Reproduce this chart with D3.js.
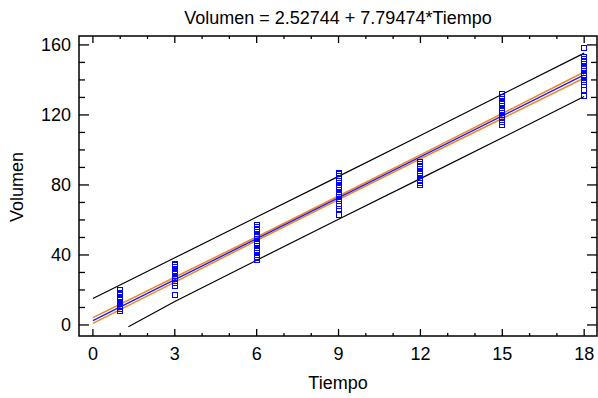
<!DOCTYPE html>
<html><head><meta charset="utf-8">
<script src="https://cdn.jsdelivr.net/npm/d3@7"></script>
<style>body{margin:0;background:#fff}svg{display:block}text{font-family:"Liberation Sans",Arial,sans-serif}</style>
</head><body><svg id="c" width="598" height="398"></svg>
<script>
const title = "Volumen = 2.52744 + 7.79474*Tiempo";
const xLabel = "Tiempo", yLabel = "Volumen";
const intercept = 2.52744, slope = 7.79474;
const xTicks = [0,3,6,9,12,15,18];
const yTicks = [0,40,80,120,160];
// observed values per Tiempo group
const tiempo = [1,3,6,9,12,15,18];
const vol1  = [8,9,10,10.5,11,12,12.5,13,14,14.5,15,16,17,17.5,18,20];
const vol3  = [17,22,24,25,26,26.5,27,28,29,29.5,30,31,32,33,34,35];
const vol6  = [37,38,39,40,41,42,43,44,45,46,47,48,49,50,51,52,53,54,55,56,57];
const vol9  = [63,66,68,69,71,72,73,74,75,76,77,78,79,80,82,84,85,86,87];
const vol12 = [80,81,82,83,84,85,86,87,88,89,90,91,92,93];
const vol15 = [114,116,117,118,119,120,121,122,123,124,125,126,127,128,129,130,132];
const vol18 = [131,134,137,139,140,141,142,143,144,145,146,147,148,149,150,151,152,153,158];
// band limits
const predUpX = [0,3,6,9,12,15,18];
const predUp  = [15.1,38.4,61.7,84.9,108.3,131.8,155.3];
const predLoX = [1.3,3,6,9,12,15,18];
const predLo  = [-1.0,13.4,37.0,60.4,83.6,107.0,130.5];
const confX   = [0,3,6,9,12,15,18];
const confUp  = [4.2,27.3,50.3,73.7,97.2,120.8,144.5];
const confLo  = [0.9,24.5,48.3,71.7,95.0,118.0,141.1];

const svg = d3.select("#c");
const L=79, T=36, R=597, B=336;
const x = d3.scaleLinear().domain([-0.51,18.47]).range([L,R]);
const y = d3.scaleLinear().domain([-6.3,165.1]).range([B,T]);

svg.append("defs").append("clipPath").attr("id","clip").append("rect")
  .attr("x",L).attr("y",T).attr("width",R-L).attr("height",B-T);

const g = svg.append("g").attr("clip-path","url(#clip)");
const line = d3.line().x(d=>x(d[0])).y(d=>y(d[1]));
const zip = (xs,ys)=>xs.map((v,i)=>[v,ys[i]]);

g.append("path").attr("d",line(zip(predUpX,predUp))).attr("fill","none").attr("stroke","#000").attr("stroke-width",1.2);
g.append("path").attr("d",line(zip(predLoX,predLo))).attr("fill","none").attr("stroke","#000").attr("stroke-width",1.2);
g.append("path").attr("d",line(zip(confX,confUp))).attr("fill","none").attr("stroke","#f08a24").attr("stroke-width",1.6);
g.append("path").attr("d",line(zip(confX,confLo))).attr("fill","none").attr("stroke","#f08a24").attr("stroke-width",1.6);
g.append("path").attr("d",line([[0,intercept],[18,intercept+slope*18]])).attr("fill","none").attr("stroke","#1a1aff").attr("stroke-width",1.4);

const groups=[vol1,vol3,vol6,vol9,vol12,vol15,vol18];
const pts=[];
groups.forEach((arr,i)=>arr.forEach(v=>pts.push([tiempo[i],v])));
svg.append("g").selectAll("rect").data(pts).join("rect")
  .attr("x",d=>Math.round(x(d[0]))-2.5).attr("y",d=>Math.round(y(d[1]))-2.5)
  .attr("width",5).attr("height",5).attr("fill","none").attr("stroke","#0000ff").attr("stroke-width",1);

// frame
svg.append("rect").attr("x",L).attr("y",T).attr("width",R-L).attr("height",B-T).attr("fill","none").attr("stroke","#000").attr("stroke-width",1.5);

// ticks
const tg = svg.append("g").attr("stroke","#000").attr("stroke-width",1.3);
d3.range(0,19,1).forEach(v=>{
  const major = v%3===0, len = major?7:3, px=x(v);
  tg.append("line").attr("x1",px).attr("x2",px).attr("y1",B).attr("y2",B-len);
  tg.append("line").attr("x1",px).attr("x2",px).attr("y1",T).attr("y2",T+len);
});
d3.range(0,161,10).forEach(v=>{
  const major = v%40===0, len = major?10:6, py=y(v);
  tg.append("line").attr("x1",L).attr("x2",L+len).attr("y1",py).attr("y2",py);
  tg.append("line").attr("x1",R).attr("x2",R-len).attr("y1",py).attr("y2",py);
});

// labels
const fs=18;
svg.append("g").selectAll("text").data(xTicks).join("text")
  .attr("x",d=>x(d)).attr("y",B+24).attr("text-anchor","middle").attr("font-size",fs).text(d=>d);
svg.append("g").selectAll("text").data(yTicks).join("text")
  .attr("x",L-8).attr("y",d=>y(d)+6.5).attr("text-anchor","end").attr("font-size",fs).text(d=>d);
svg.append("text").attr("x",338).attr("y",389).attr("text-anchor","middle").attr("font-size",fs).text(xLabel);
svg.append("text").attr("transform","translate(23,187) rotate(-90)").attr("text-anchor","middle").attr("font-size",fs).text(yLabel);
svg.append("text").attr("x",338).attr("y",24).attr("text-anchor","middle").attr("font-size",fs).text(title);
</script></body></html>
